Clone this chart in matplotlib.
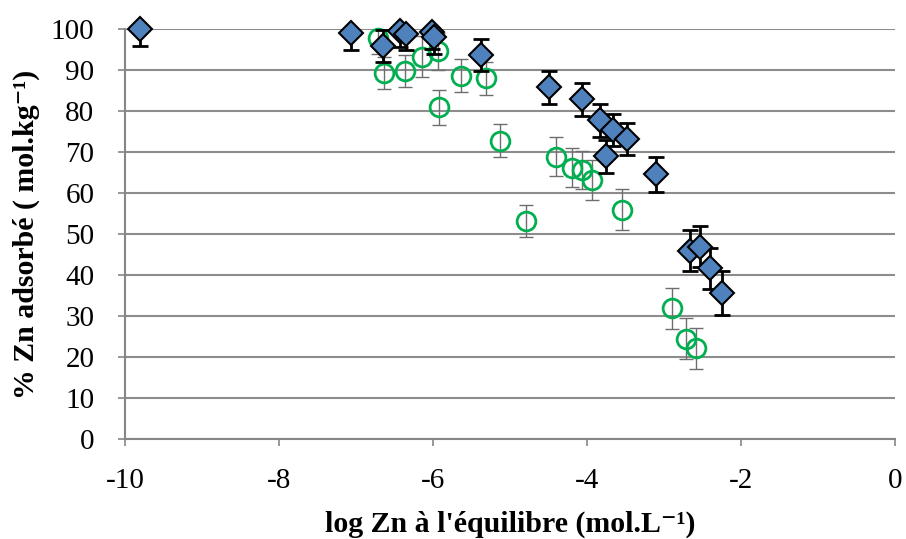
import matplotlib
matplotlib.use("Agg")
import matplotlib.pyplot as plt

plt.rcParams["font.family"] = ["Liberation Serif", "DejaVu Serif"]
plt.rcParams["axes.unicode_minus"] = False

# series 1 (blue diamonds): log Zn, % adsorbed, error
blue_x = [-9.80, -7.06, -6.65, -6.43, -6.35, -6.02, -5.99, -5.38, -4.50, -4.06,
          -3.83, -3.66, -3.48, -3.75, -3.11, -2.66, -2.53, -2.40, -2.25]
blue_y = [100, 99.0, 95.9, 99.6, 98.8, 99.2, 98.0, 93.7, 85.8, 82.9,
          77.8, 75.4, 73.2, 69.0, 64.6, 45.9, 46.9, 41.6, 35.7]
blue_err = [4, 4, 4, 4, 4, 4, 4, 4, 4, 4,
            4, 4, 4, 4, 4.3, 5, 5, 5, 5.4]

# series 2 (green open circles)
green_x = [-6.72, -6.64, -6.36, -6.14, -5.93, -5.92, -5.64, -5.31, -5.13, -4.79,
           -4.40, -4.20, -4.06, -3.94, -3.55, -2.90, -2.71, -2.59]
green_y = [97.9, 89.3, 89.8, 93.2, 94.6, 80.9, 88.6, 88.0, 72.8, 53.2,
           68.9, 66.2, 65.6, 63.2, 55.9, 31.9, 24.5, 22.1]
green_err = [4, 4, 4, 5, 4.5, 4.3, 4, 4, 4, 4,
             4.7, 4.7, 4.7, 4.9, 5, 5, 5, 5]

x_ticks = [-10, -8, -6, -4, -2, 0]
y_ticks = list(range(0, 101, 10))

fig = plt.figure(figsize=(9.06, 5.39), dpi=100)
ax = fig.add_axes([0.138, 0.1855, 0.850, 0.7605])

# error bars are clipped at the axes, markers are not
ax.errorbar(green_x, green_y, yerr=green_err, fmt="none", ecolor="#6E6E6E",
            elinewidth=1, capsize=5, capthick=1, zorder=3)
ax.plot(green_x, green_y, "o", ms=13.5, mfc="none", mec="#00B050", mew=2,
        zorder=3.5, clip_on=False)
ax.errorbar(blue_x, blue_y, yerr=blue_err, fmt="none", ecolor="black",
            elinewidth=2, capsize=6, capthick=2, zorder=4)
ax.plot(blue_x, blue_y, "D", ms=12.5, mfc="#4F81BD", mec="black", mew=1.5,
        zorder=4.5, clip_on=False)

ax.set_xlim(-10, 0)
ax.set_ylim(0, 100)
ax.set_xticks(x_ticks)
ax.set_yticks(y_ticks)
ax.set_xticklabels([str(t) for t in x_ticks])
ax.tick_params(labelsize=21, colors="#868686", labelcolor="black", length=5,
               width=1.2)
ax.tick_params(axis="x", pad=16)
ax.tick_params(axis="y", pad=17)

ax.yaxis.grid(True, color="#8C8C8C", lw=1.5)
ax.set_axisbelow(True)
for s in ["top", "right"]:
    ax.spines[s].set_visible(False)
for s in ["left", "bottom"]:
    ax.spines[s].set_color("#868686")
    ax.spines[s].set_linewidth(1.5)

ax.set_xlabel("log Zn à l'équilibre (mol.L\u207b\u00b9)", fontsize=21.5,
              fontweight="bold", labelpad=12)
ax.set_ylabel("% Zn adsorbé ( mol.kg\u207b\u00b9)", fontsize=21.5,
              fontweight="bold", labelpad=8)

fig.savefig("out.png", dpi=100)
